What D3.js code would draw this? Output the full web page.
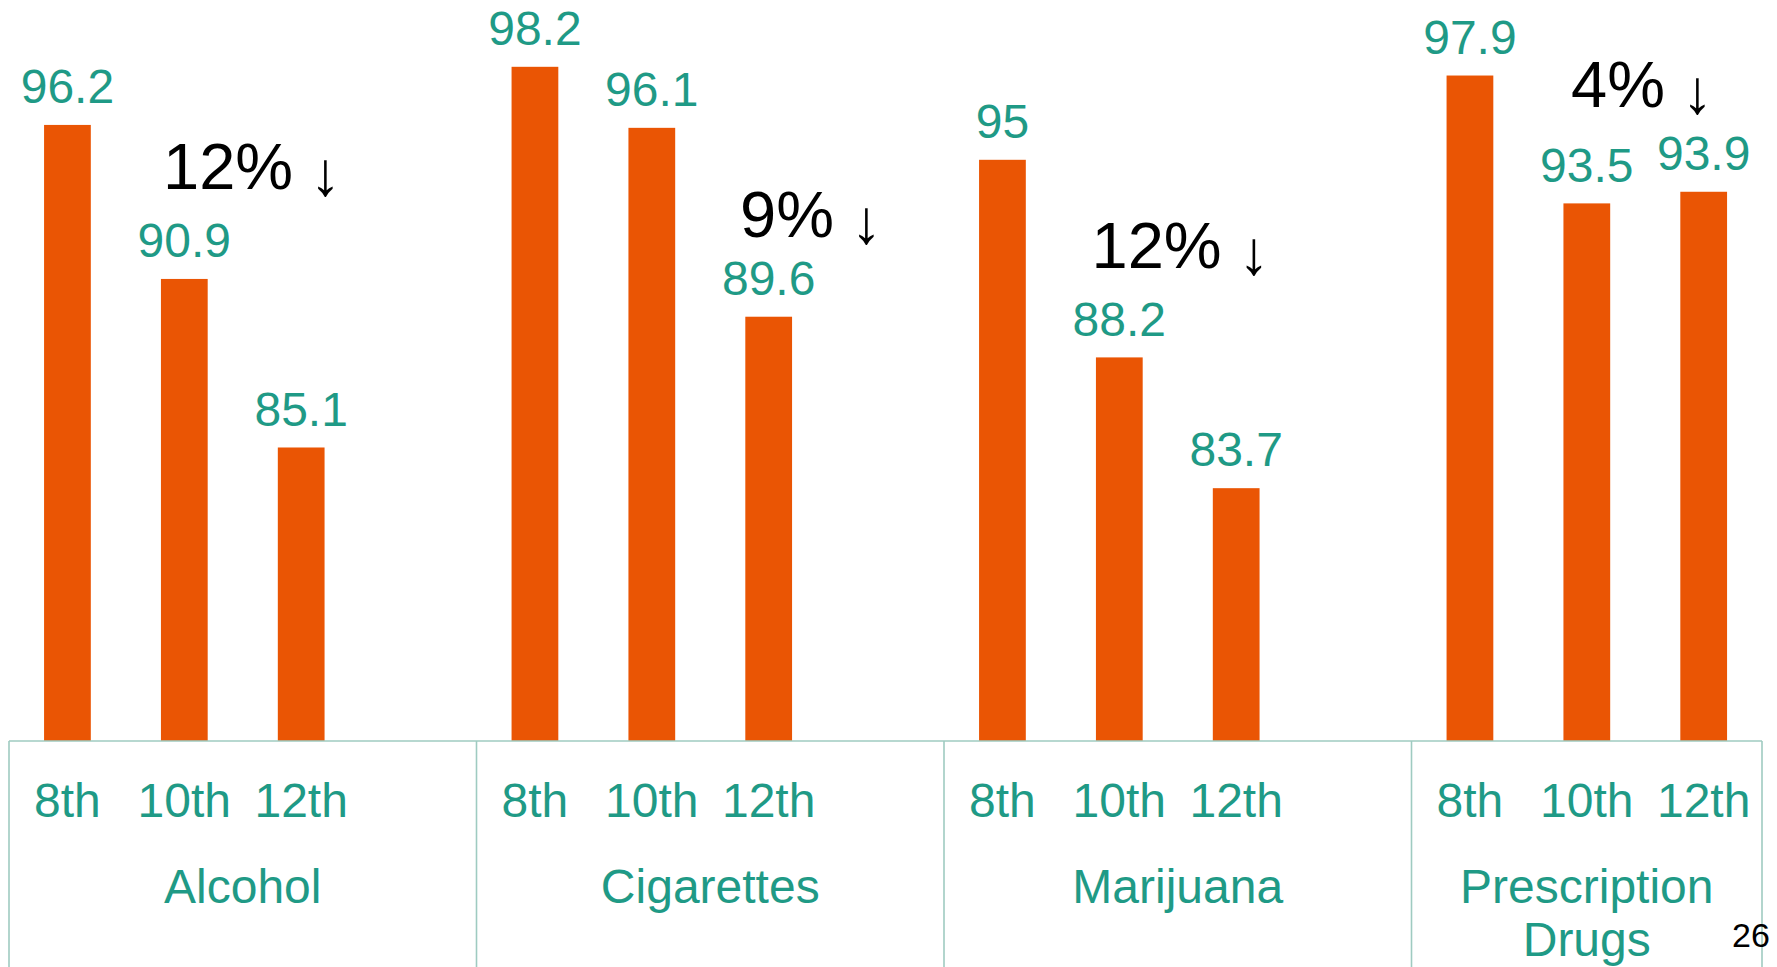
<!DOCTYPE html>
<html>
<head>
<meta charset="utf-8">
<script src="https://cdn.jsdelivr.net/npm/d3@7"></script>
<style>
  html, body { margin: 0; padding: 0; background: #ffffff; }
  svg { display: block; }
  text { font-family: "Liberation Sans", Arial, Helvetica, sans-serif; }
</style>
</head>
<body>
<svg id="chart" width="1777" height="967"></svg>
<script>
// ---- data ----
const categories = ["Alcohol", "Cigarettes", "Marijuana", "Prescription Drugs"];
const grades = ["8th", "10th", "12th"];
const grade8 = [96.2, 98.2, 95, 97.9];
const grade10 = [90.9, 96.1, 88.2, 93.5];
const grade12 = [85.1, 89.6, 83.7, 93.9];
const changeLabels = ["12%", "9%", "12%", "4%"];
const arrowGlyph = "\u2193";
const yDomain = [75, 100];
const pageNumber = "26";

// ---- layout (not data) ----
const W = 1777, H = 967;
const plotLeft = 9, plotRight = 1762, baseY = 741, topY = 14.5;
const groupWidth = 467.5;
const annDx = [154, 263.5, 147.5, 159.5];      // px from group start
const annYValue = [94.0, 92.35, 91.27, 96.8];   // baseline, in y-units
const teal = "#1f9a86", orange = "#ea5504", axisColor = "#9fcbc1";

const svg = d3.select("#chart");
svg.append("rect").attr("width", W).attr("height", H).attr("fill", "#fff");

const x0 = d3.scaleBand().domain(categories)
  .range([plotLeft, plotLeft + groupWidth * categories.length])
  .paddingInner(0).paddingOuter(0);
const x1 = d3.scaleBand().domain([...grades, "_"])
  .range([0, groupWidth]).paddingInner(0.6).paddingOuter(0.3);
const y = d3.scaleLinear().domain(yDomain).range([baseY, topY]);

const rows = [];
categories.forEach((c, i) => {
  [grade8[i], grade10[i], grade12[i]].forEach((v, j) => rows.push({cat: c, grade: grades[j], value: v}));
});

// bars
svg.append("g").selectAll("rect").data(rows).join("rect")
  .attr("x", d => x0(d.cat) + x1(d.grade))
  .attr("width", x1.bandwidth())
  .attr("y", d => y(d.value))
  .attr("height", d => y(yDomain[0]) - y(d.value))
  .attr("fill", orange);

// value labels
svg.append("g").selectAll("text").data(rows).join("text")
  .attr("x", d => x0(d.cat) + x1(d.grade) + x1.bandwidth() / 2)
  .attr("y", d => y(d.value) - 21.7)
  .attr("text-anchor", "middle")
  .attr("font-size", 48)
  .attr("fill", teal)
  .text(d => d3.format("")(d.value));

// axis lines
const axisG = svg.append("g").attr("stroke", axisColor).attr("stroke-width", 1.6).attr("fill", "none");
axisG.append("line").attr("x1", plotLeft).attr("x2", plotRight).attr("y1", baseY).attr("y2", baseY);
const bounds = categories.map(c => x0(c)).concat([plotRight]);
axisG.selectAll("line.div").data(bounds).join("line").attr("class", "div")
  .attr("x1", d => d).attr("x2", d => d).attr("y1", baseY).attr("y2", H);

// grade tick labels
svg.append("g").selectAll("text").data(rows).join("text")
  .attr("x", d => x0(d.cat) + x1(d.grade) + x1.bandwidth() / 2)
  .attr("y", 816.7)
  .attr("text-anchor", "middle")
  .attr("font-size", 48)
  .attr("fill", teal)
  .text(d => d.grade);

// category labels (wrap when too wide)
categories.forEach((c, i) => {
  const left = x0(c), right = Math.min(x0(c) + x0.bandwidth(), plotRight);
  const cx = (left + right) / 2;
  const t = svg.append("text").attr("x", cx).attr("y", 902.7)
    .attr("text-anchor", "middle").attr("font-size", 48).attr("fill", teal).text(c);
  if (t.node().getComputedTextLength() > (right - left) - 20) {
    const words = c.split(" ");
    t.text(null);
    words.forEach((w, k) => t.append("tspan").attr("x", cx).attr("dy", k === 0 ? 0 : 53).text(w));
  }
});

// change annotations: label + arrow as separate texts
const annG = svg.append("g");
categories.forEach((c, i) => {
  const ax = x0(c) + annDx[i], ay = y(annYValue[i]);
  const t = annG.append("text").attr("x", ax).attr("y", ay)
    .attr("font-size", 65).attr("fill", "#000").text(changeLabels[i]);
  const len = t.node().getComputedTextLength();
  annG.append("text").attr("x", ax + len + 17).attr("y", ay + 6)
    .attr("font-family", "'DejaVu Sans', sans-serif")
    .attr("font-weight", 200)
    .attr("font-size", 62).attr("fill", "#000").text(arrowGlyph);
});

// page number
svg.append("text").attr("x", 1732).attr("y", 946.7).attr("font-size", 34).attr("fill", "#000").text(pageNumber);
</script>
</body>
</html>
